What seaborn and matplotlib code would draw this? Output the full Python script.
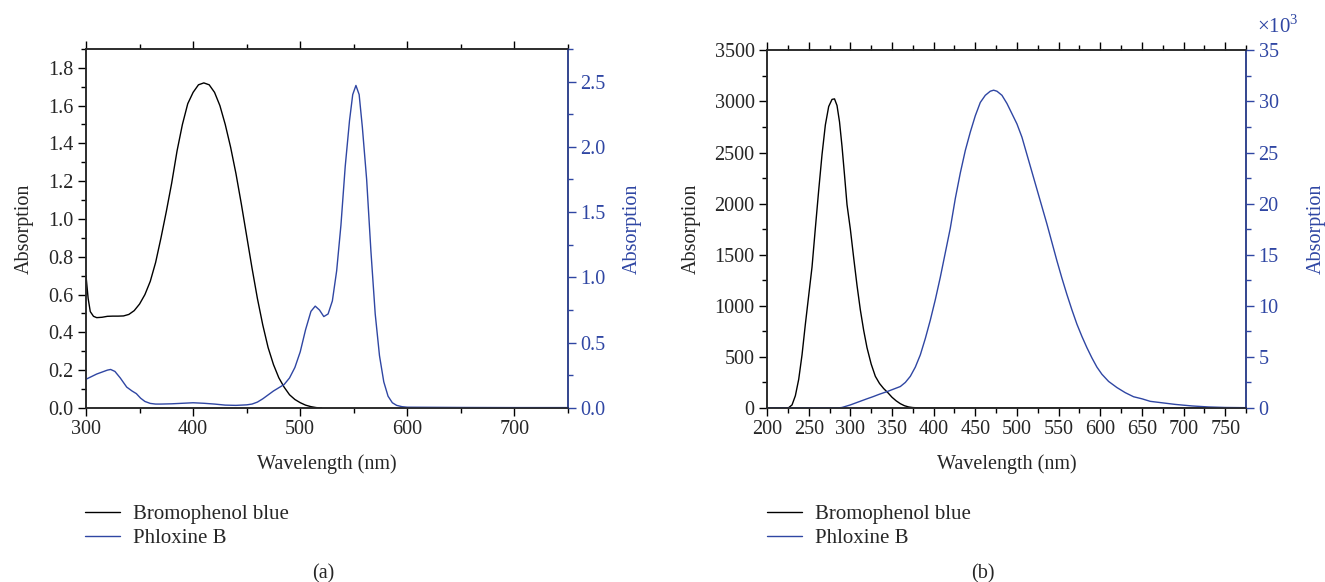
import numpy as np
import pandas as pd
import matplotlib
matplotlib.use("Agg")
import matplotlib.pyplot as plt
import seaborn as sns
from matplotlib.ticker import MultipleLocator, FormatStrFormatter

BLUE = '#2f46a3'

# (a) Bromophenol blue, left axis
wl_bpb_a = [300, 302, 304, 307, 310, 315, 320, 325, 330, 335, 340, 345, 350, 355, 360, 365, 370,
            375, 380, 385, 390, 395, 400, 405, 410, 415, 420, 425, 430, 435, 440, 445, 450, 455,
            460, 465, 470, 475, 480, 485, 490, 495, 500, 505, 510, 515, 520]
abs_bpb_a = [0.70, 0.58, 0.51, 0.485, 0.478, 0.48, 0.485, 0.486, 0.486, 0.487, 0.495, 0.515, 0.55,
             0.60, 0.67, 0.77, 0.90, 1.04, 1.19, 1.36, 1.50, 1.61, 1.67, 1.71, 1.72, 1.71, 1.67,
             1.60, 1.50, 1.38, 1.24, 1.08, 0.91, 0.74, 0.58, 0.44, 0.32, 0.23, 0.16, 0.11, 0.07,
             0.045, 0.028, 0.015, 0.007, 0.002, 0.0]

# (a) Phloxine B, right axis
wl_phl_a = [300, 305, 310, 315, 320, 323, 327, 332, 338, 343, 347, 351, 355, 360, 365, 370, 380,
            390, 400, 410, 420, 430, 440, 450, 455, 460, 465, 470, 475, 480, 485, 490, 495, 500,
            505, 510, 514, 518, 522, 526, 530, 534, 538, 542, 546, 549, 552, 555, 558, 562, 566,
            570, 574, 578, 582, 586, 590, 595, 600, 650, 700, 750]
abs_phl_a = [0.22, 0.24, 0.26, 0.275, 0.29, 0.295, 0.28, 0.23, 0.16, 0.13, 0.11, 0.075, 0.05,
             0.035, 0.03, 0.03, 0.032, 0.036, 0.04, 0.036, 0.03, 0.022, 0.02, 0.024, 0.03, 0.045,
             0.07, 0.10, 0.13, 0.155, 0.18, 0.23, 0.31, 0.43, 0.60, 0.74, 0.78, 0.75, 0.70, 0.72,
             0.82, 1.05, 1.40, 1.85, 2.20, 2.40, 2.47, 2.40, 2.15, 1.75, 1.20, 0.72, 0.40, 0.20,
             0.09, 0.04, 0.02, 0.01, 0.006, 0.004, 0.003, 0.003]

# (b) Bromophenol blue, left axis
wl_bpb_b = [200, 222, 226, 230, 234, 238, 242, 246, 250, 254, 258, 262, 266, 270, 274, 278, 281,
            284, 287, 290, 293, 296, 300, 304, 308, 312, 316, 320, 325, 330, 335, 340, 345, 350,
            355, 360, 365, 370, 375, 385, 775]
abs_bpb_b = [0, 0, 3, 30, 120, 280, 520, 820, 1100, 1380, 1760, 2130, 2480, 2770, 2950, 3020, 3025,
             2960, 2800, 2560, 2280, 1990, 1750, 1470, 1200, 960, 760, 590, 430, 310, 240, 190,
             150, 105, 70, 42, 22, 10, 4, 0, 0]

# (b) Phloxine B, right axis (x10^3)
wl_phl_b = [200, 285, 290, 300, 310, 320, 327, 335, 344, 352, 360, 366, 372, 378, 384, 390, 396,
            402, 408, 414, 420, 426, 432, 438, 444, 450, 456, 462, 468, 472, 476, 482, 488, 494,
            500, 506, 512, 518, 524, 530, 536, 542, 548, 554, 560, 566, 572, 578, 584, 590, 596,
            602, 610, 620, 630, 640, 650, 660, 675, 690, 710, 730, 750, 775]
abs_phl_b = [0, 0, 0.05, 0.3, 0.6, 0.9, 1.1, 1.35, 1.6, 1.85, 2.1, 2.5, 3.1, 4.0, 5.2, 6.8, 8.6,
             10.6, 12.8, 15.2, 17.6, 20.5, 23.0, 25.2, 27.0, 28.6, 29.9, 30.6, 31.0, 31.1, 31.0,
             30.6, 29.8, 28.8, 27.8, 26.5, 24.8, 23.1, 21.4, 19.7, 18.0, 16.2, 14.4, 12.7, 11.1,
             9.6, 8.2, 7.0, 5.9, 4.9, 4.0, 3.3, 2.6, 2.0, 1.5, 1.1, 0.9, 0.65, 0.5, 0.35, 0.2,
             0.1, 0.05, 0.03]

labels = ["Bromophenol blue", "Phloxine B"]

sns.set_style("ticks")
plt.rcParams['font.family'] = ['Liberation Serif', 'DejaVu Serif']
plt.rcParams['font.size'] = 14.5
plt.rcParams['mathtext.fontset'] = 'custom'
plt.rcParams['mathtext.rm'] = 'Liberation Serif'
plt.rcParams['axes.linewidth'] = 1.1

fig = plt.figure(figsize=(13.25, 5.82), dpi=100)


def style_panel(ax, ax2, xmaj, xmin_, ymaj, ymin_, y2maj, y2min, pad_l, pad_r):
    ax.xaxis.set_major_locator(MultipleLocator(xmaj))
    ax.xaxis.set_minor_locator(MultipleLocator(xmin_))
    ax.yaxis.set_major_locator(MultipleLocator(ymaj))
    ax.yaxis.set_minor_locator(MultipleLocator(ymin_))
    ax2.yaxis.set_major_locator(MultipleLocator(y2maj))
    ax2.yaxis.set_minor_locator(MultipleLocator(y2min))
    ax.tick_params(which='both', direction='out', top=True, labelsize=14.5, color='black')
    ax.tick_params(which='major', length=5.5, width=1)
    ax.tick_params(which='minor', length=3.5, width=1)
    ax2.tick_params(which='both', direction='out', colors=BLUE, labelsize=14.5)
    ax2.tick_params(which='major', length=5.5, width=1)
    ax2.tick_params(which='minor', length=3.5, width=1)
    ax2.spines['right'].set_color(BLUE)
    ax.set_xlabel("Wavelength (nm)", fontsize=14.5, labelpad=11)
    ax.set_ylabel("Absorption", fontsize=14.5, labelpad=pad_l)
    ax2.set_ylabel("Absorption", fontsize=14.5, color=BLUE, labelpad=pad_r)


leg_kw = dict(loc='upper left', frameon=False, bbox_transform=fig.transFigure, borderaxespad=0,
              borderpad=0, handlelength=1.68, handletextpad=0.62, labelspacing=0.2, fontsize=15)

# panel (a)
ax1 = fig.add_axes([0.0649, 0.299, 0.3638, 0.617])
ax1b = ax1.twinx()
sns.lineplot(x=wl_bpb_a, y=abs_bpb_a, ax=ax1, color='black', linewidth=1.0)
sns.lineplot(x=wl_phl_a, y=abs_phl_a, ax=ax1b, color=BLUE, linewidth=1.0)
ax1.set_xlim(300, 750)
ax1.set_ylim(0, 1.9)
ax1b.set_ylim(0, 2.75)
style_panel(ax1, ax1b, 100, 50, 0.2, 0.1, 0.5, 0.25, 10, 12.5)
ax1.yaxis.set_major_formatter(FormatStrFormatter('%.1f'))
ax1b.yaxis.set_major_formatter(FormatStrFormatter('%.1f'))
ax1.legend([ax1.lines[0], ax1b.lines[0]], labels, bbox_to_anchor=(0.0642, 0.133), **leg_kw)
fig.text(323 / 1325, 1 - 574 / 582, "(a)", ha='center', va='center', fontsize=14.5)

# panel (b)
ax2 = fig.add_axes([0.5789, 0.299, 0.3615, 0.6145])
ax2b = ax2.twinx()
sns.lineplot(x=wl_bpb_b, y=abs_bpb_b, ax=ax2, color='black', linewidth=1.0)
sns.lineplot(x=wl_phl_b, y=abs_phl_b, ax=ax2b, color=BLUE, linewidth=1.0)
ax2.set_xlim(200, 775)
ax2.set_ylim(0, 3500)
ax2b.set_ylim(0, 35)
style_panel(ax2, ax2b, 50, 25, 500, 250, 5, 2.5, 10, 20.5)
ax2b.text(1.022, 1.035, r"×$10^{3}$", transform=ax2b.transAxes, color=BLUE, fontsize=15,
          ha='left', va='bottom')
ax2.legend([ax2.lines[0], ax2b.lines[0]], labels, bbox_to_anchor=(0.5789, 0.133), **leg_kw)
fig.text(983 / 1325, 1 - 574 / 582, "(b)", ha='center', va='center', fontsize=14.5)

fig.savefig("out.png", dpi=100)
